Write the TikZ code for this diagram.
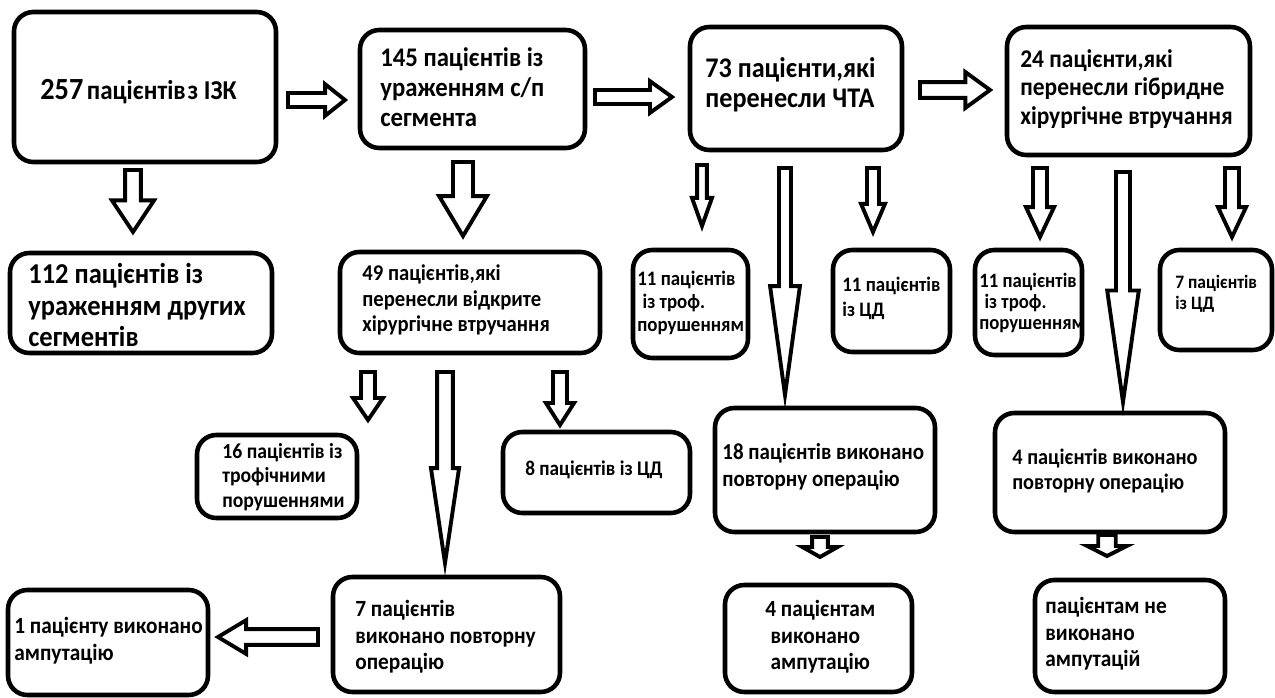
\documentclass[tikz,border=0pt]{standalone}
\usepackage{fontspec}
\setmainfont{Carlito}[FakeStretch=0.92]
\usepackage{tikz}
\usetikzlibrary{fit,calc}
\newcommand{\fsz}[2]{\fontsize{#1}{#2}\selectfont\bfseries}
\newcommand{\ind}{\kern3pt}

\begin{document}
\begin{tikzpicture}[x=0.02cm,y=-0.02cm]
\tikzstyle{box}=[rectangle, rounded corners=11pt, draw=black, line width=2.6pt, inner sep=0pt]
\tikzstyle{txt}=[inner sep=0pt, anchor=west, align=left]
% block arrow: shaft half width, head half width, head length
\tikzstyle{blk}=[draw=black, fill=white, line width=2.2pt]
\tikzset{barrow/.style n args={3}{blk, to path={
  ($(\tikztostart)!#1!90:(\tikztotarget)$)
  -- ($($(\tikztotarget)!#3!(\tikztostart)$)!#1!90:(\tikztotarget)$)
  -- ($($(\tikztotarget)!#3!(\tikztostart)$)!#2!90:(\tikztotarget)$)
  -- (\tikztotarget)
  -- ($($(\tikztotarget)!#3!(\tikztostart)$)!#2!-90:(\tikztotarget)$)
  -- ($($(\tikztotarget)!#3!(\tikztostart)$)!#1!-90:(\tikztotarget)$)
  -- ($(\tikztostart)!#1!-90:(\tikztotarget)$) -- cycle}}}

\useasboundingbox (0,0) rectangle (1275,697);

% first row
\node[box, fit={(14,12) (276,162)}] (b257) {};
\node[box, fit={(360,30) (585,148)}] (b145) {};
\node[box, fit={(690,27) (902,150)}] (b73) {};
\node[box, fit={(1007,27) (1250,155)}] (b24) {};
\node[txt, font=\fsz{15.5}{18}] (t257) at (40,92) {{\fontsize{17.5}{18}\selectfont 257}\kern2pt пацієнтів\kern1pt з ІЗК};
\node[txt, font=\fsz{15.3}{17}] (t145) at (380,87) {145 пацієнтів із\\ураженням с/п\\сегмента};
\node[txt, font=\fsz{16.2}{16.8}] (t73) at (705,85) {73 пацієнти,які\\перенесли ЧТА};
\node[txt, font=\fsz{14.5}{16}] (t24) at (1020,89) {24 пацієнти,які\\перенесли гібридне\\хірургічне втручання};

% second row
\node[box, fit={(10,253) (272,353)}] (b112) {};
\node[box, fit={(340,252) (600,353)}] (b49) {};
\node[box, fit={(633,250) (748,358)}] (b11a) {};
\node[box, fit={(833,250) (950,352)}] (b11b) {};
\node[box, fit={(975,250) (1082,355)}] (b11c) {};
\node[box, fit={(1160,250) (1272,350)}] (b7cd) {};
\node[txt, font=\fsz{16.4}{18}] (t112) at (28,305) {112 пацієнтів із\\ураженням других\\сегментів};
\node[txt, font=\fsz{12.8}{14.6}] (t49) at (362,300) {49 пацієнтів,які\\перенесли відкрите\\хірургічне втручання};
\node[txt, font=\fsz{11.7}{13}] (t11a) at (637,303) {11 пацієнтів\\\ind із троф.\\порушенням};
\node[txt, font=\fsz{11.7}{14.2}] (t11b) at (842,298) {11 пацієнтів\\із ЦД};
\node[txt, font=\fsz{11.6}{12}] (t11c) at (979,303) {11 пацієнтів\\\ind із троф.\\порушенням};
\node[txt, font=\fsz{10.8}{11.8}] (t7cd) at (1175,294) {7 пацієнтів\\із ЦД};

% third row
\node[box, fit={(197,435) (357,518)}] (b16) {};
\node[box, fit={(503,432) (690,513)}] (b8) {};
\node[box, fit={(715,408) (935,532)}] (b18) {};
\node[box, fit={(995,413) (1225,532)}] (b4) {};
\node[txt, font=\fsz{12.2}{14}] (t16) at (222,477) {16 пацієнтів із\\трофічними\\порушеннями};
\node[txt, font=\fsz{11.9}{14}] (t8) at (525,470) {8 пацієнтів із ЦД};
\node[txt, font=\fsz{13}{15.3}] (t18) at (722,467) {18 пацієнтів виконано\\повторну операцію};
\node[txt, font=\fsz{12.6}{14.7}] (t4) at (1012,471) {4 пацієнтів виконано\\повторну операцію};

% last row
\node[box, fit={(8,590) (208,695)}] (b1) {};
\node[box, fit={(333,577) (560,692)}] (b7r) {};
\node[box, fit={(725,585) (912,692)}] (b4a) {};
\node[box, fit={(1035,580) (1225,692)}] (b0) {};
\node[txt, font=\fsz{13.2}{15.5}] (t1) at (14,641) {1 пацієнту виконано\\ампутацію};
\node[txt, font=\fsz{13.2}{15}] (t7r) at (355,637) {7 пацієнтів\\виконано повторну\\операцію};
\node[txt, font=\fsz{13.2}{15}] (t4a) at (765,637) {4 пацієнтам\\\ind виконано\\\ind ампутацію};
\node[txt, font=\fsz{13.2}{15}] (t0) at (1045,634) {пацієнтам не\\виконано\\ампутацій};

% arrow ends
\coordinate (r1s) at (288,100);  \coordinate (r1e) at (345,100);
\coordinate (r2s) at (595,97);   \coordinate (r2e) at (672,97);
\coordinate (r3s) at (920,90);   \coordinate (r3e) at (990,90);
\coordinate (d1s) at (133,170);  \coordinate (d1e) at (133,232);
\coordinate (d2s) at (463,162);  \coordinate (d2e) at (463,236);
\coordinate (d3s) at (702,165);  \coordinate (d3e) at (702,226);
\coordinate (d4s) at (785,168);  \coordinate (d4e) at (785,395);
\coordinate (d5s) at (873,168);  \coordinate (d5e) at (873,232);
\coordinate (d6s) at (1040,168); \coordinate (d6e) at (1040,237);
\coordinate (d7s) at (1123,172); \coordinate (d7e) at (1123,402);
\coordinate (d8s) at (1232,168); \coordinate (d8e) at (1232,237);
\coordinate (d9s) at (368,372);  \coordinate (d9e) at (368,420);
\coordinate (d10s) at (445,372); \coordinate (d10e) at (445,563);
\coordinate (d11s) at (560,372); \coordinate (d11e) at (560,425);
\coordinate (d12s) at (820,537); \coordinate (d12e) at (820,557);
\coordinate (d13s) at (1107,535); \coordinate (d13e) at (1107,556);
\coordinate (l1s) at (318,637);  \coordinate (l1e) at (218,637);

\draw[barrow={4pt}{9pt}{11.3pt}] (r1s) to (r1e);
\draw[barrow={4pt}{9pt}{12.5pt}] (r2s) to (r2e);
\draw[barrow={4.5pt}{10.2pt}{14pt}] (r3s) to (r3e);
\draw[barrow={4.5pt}{12pt}{18pt}] (d1s) to (d1e);
\draw[barrow={5.7pt}{13.6pt}{22.7pt}] (d2s) to (d2e);
\draw[barrow={2.8pt}{5.7pt}{16pt}] (d3s) to (d3e);
\draw[barrow={3.4pt}{8.5pt}{62pt}] (d4s) to (d4e);
\draw[barrow={3.4pt}{6.8pt}{16pt}] (d5s) to (d5e);
\draw[barrow={4pt}{8pt}{17pt}] (d6s) to (d6e);
\draw[barrow={4pt}{9pt}{63.5pt}] (d7s) to (d7e);
\draw[barrow={4pt}{8pt}{17pt}] (d8s) to (d8e);
\draw[barrow={4pt}{8.5pt}{12.5pt}] (d9s) to (d9e);
\draw[barrow={4.5pt}{8pt}{54pt}] (d10s) to (d10e);
\draw[barrow={4pt}{8pt}{12.5pt}] (d11s) to (d11e);
\draw[barrow={4.5pt}{10pt}{5.7pt}] (d12s) to (d12e);
\draw[barrow={5pt}{11.3pt}{5.7pt}] (d13s) to (d13e);
\draw[barrow={4.5pt}{9.6pt}{16pt}] (l1s) to (l1e);
\end{tikzpicture}
\end{document}
